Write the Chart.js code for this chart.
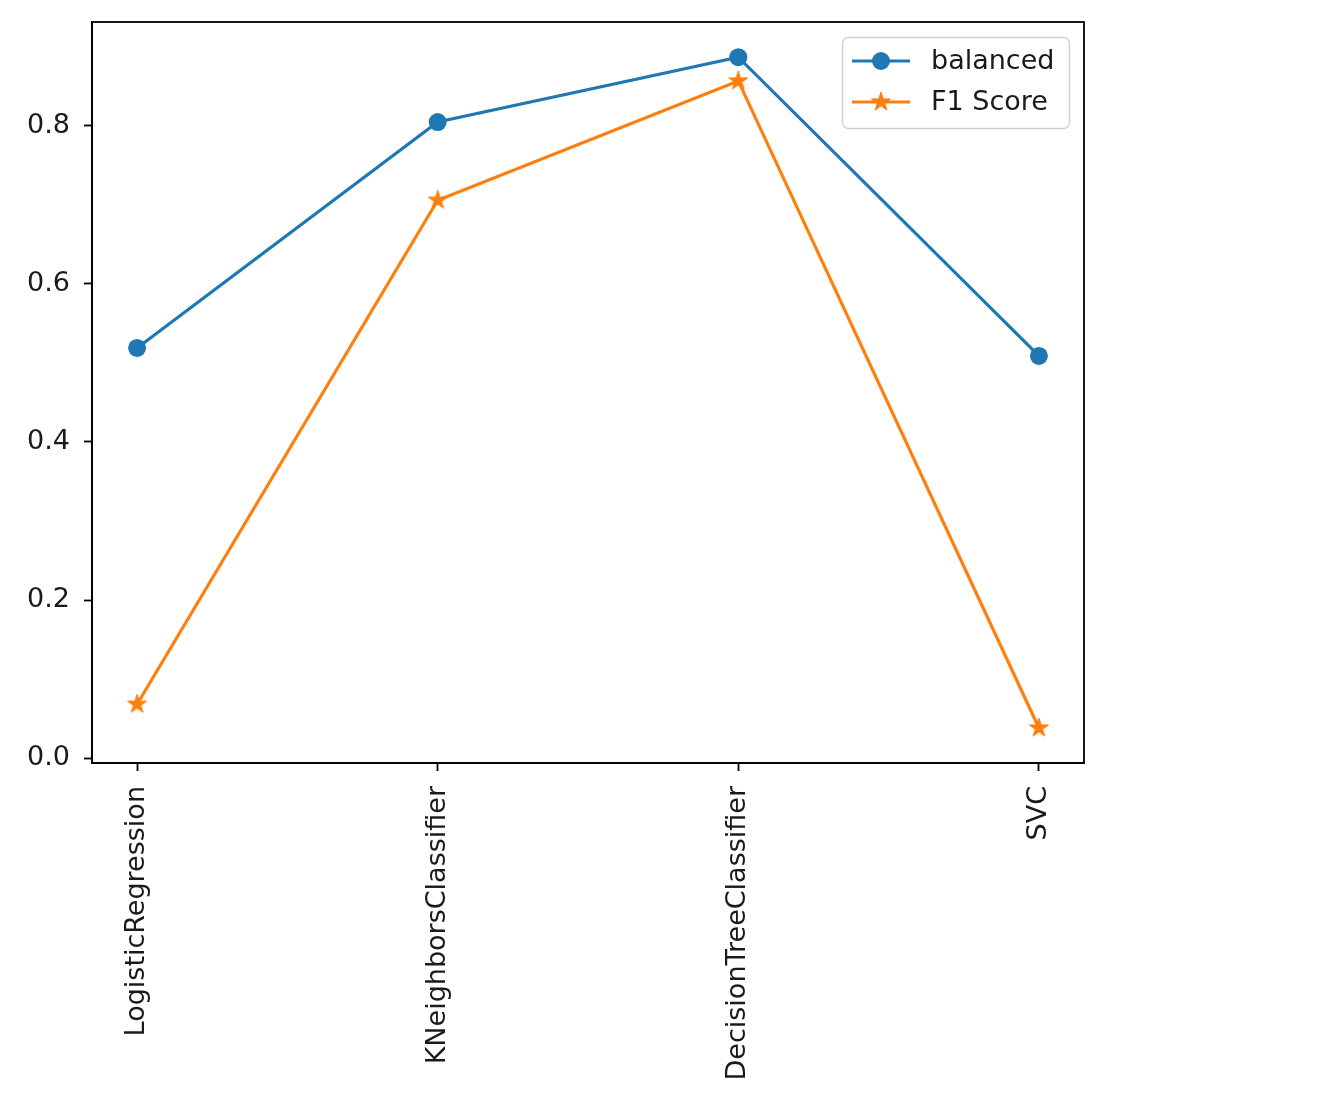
<!DOCTYPE html>
<html>
<head>
<meta charset="utf-8">
<title>Model scores</title>
<script src="https://cdn.jsdelivr.net/npm/chart.js@4/dist/chart.umd.min.js"></script>
<style>
  html, body { margin: 0; padding: 0; background: #fff; }
  #wrap { width: 1332px; height: 1116px; }
</style>
</head>
<body>
<div id="wrap"><canvas id="chart" width="1332" height="1116"></canvas></div>
<script>
// data
const categories = ['LogisticRegression', 'KNeighborsClassifier', 'DecisionTreeClassifier', 'SVC'];
const balanced = [0.519, 0.805, 0.887, 0.509];
const f1Score = [0.068, 0.706, 0.857, 0.038];
const yTicks = [0.0, 0.2, 0.4, 0.6, 0.8];

const BLUE = '#1f77b4';
const ORANGE = '#ff7f0e';
const FONT = { family: '"DejaVu Sans", sans-serif', size: 27 };

// filled 5-point star like matplotlib's '*' marker
function makeStar(color, outer) {
    const size = Math.ceil(outer * 2 + 4);
    const c = document.createElement('canvas');
    c.width = size; c.height = size;
    const g = c.getContext('2d');
    const inner = outer * 0.382;
    g.beginPath();
    for (let i = 0; i < 10; i++) {
        const r = i % 2 === 0 ? outer : inner;
        const a = -Math.PI / 2 + i * Math.PI / 5;
        const px = size / 2 + r * Math.cos(a);
        const py = size / 2 + r * Math.sin(a);
        if (i === 0) g.moveTo(px, py); else g.lineTo(px, py);
    }
    g.closePath();
    g.fillStyle = color;
    g.fill();
    g.lineWidth = 1;
    g.strokeStyle = color;
    g.stroke();
    return c;
}
const starImg = makeStar(ORANGE, 10);

function toPoints(arr) {
    return arr.map((v, i) => ({ x: i, y: v }));
}

// spines drawn over the lines
const framePlugin = {
    id: 'frame',
    afterDatasetsDraw(chart) {
        const a = chart.chartArea;
        const ctx = chart.ctx;
        ctx.save();
        ctx.strokeStyle = '#000';
        ctx.lineWidth = 1.8;
        ctx.strokeRect(a.left, a.top, a.right - a.left, a.bottom - a.top);
        ctx.restore();
    }
};

// matplotlib style legend: line with marker in the middle
const legendPlugin = {
    id: 'mplLegend',
    afterDraw(chart) {
        const ctx = chart.ctx;
        ctx.save();
        ctx.beginPath();
        ctx.roundRect(842.5, 37.5, 227, 91, 6);
        ctx.fillStyle = 'rgba(255,255,255,0.8)';
        ctx.fill();
        ctx.strokeStyle = '#d0d0d0';
        ctx.lineWidth = 1.5;
        ctx.stroke();

        const rows = [
            { label: 'balanced', color: BLUE, y: 61, marker: 'circle' },
            { label: 'F1 Score', color: ORANGE, y: 102, marker: 'star' }
        ];
        rows.forEach(r => {
            ctx.beginPath();
            ctx.moveTo(852, r.y);
            ctx.lineTo(910, r.y);
            ctx.strokeStyle = r.color;
            ctx.lineWidth = 3;
            ctx.stroke();
            if (r.marker === 'circle') {
                ctx.beginPath();
                ctx.arc(881, r.y, 9, 0, Math.PI * 2);
                ctx.fillStyle = r.color;
                ctx.fill();
            } else {
                ctx.drawImage(starImg, 881 - starImg.width / 2, r.y - starImg.height / 2);
            }
            ctx.fillStyle = '#1a1a1a';
            ctx.font = FONT.size + 'px ' + FONT.family;
            ctx.textBaseline = 'middle';
            ctx.textAlign = 'left';
            ctx.fillText(r.label, 931, r.y + 1);
        });
        ctx.restore();
    }
};

const chart = new Chart(document.getElementById('chart'), {
    type: 'line',
    data: {
        datasets: [
            {
                label: 'balanced',
                data: toPoints(balanced),
                borderColor: BLUE,
                backgroundColor: BLUE,
                borderWidth: 3.2,
                pointStyle: 'circle',
                pointRadius: 9,
                pointBorderWidth: 0,
                pointHoverRadius: 9,
                tension: 0,
                clip: false
            },
            {
                label: 'F1 Score',
                data: toPoints(f1Score),
                borderColor: ORANGE,
                backgroundColor: ORANGE,
                borderWidth: 3.2,
                pointStyle: starImg,
                pointRadius: 10,
                tension: 0,
                clip: false
            }
        ]
    },
    options: {
        responsive: false,
        devicePixelRatio: 1,
        animation: false,
        layout: { padding: { left: 0, top: 22, right: 248, bottom: 0 } },
        plugins: {
            legend: { display: false },
            tooltip: { enabled: false }
        },
        scales: {
            x: {
                type: 'linear',
                min: -0.15,
                max: 3.15,
                afterBuildTicks(scale) {
                    scale.ticks = categories.map((c, i) => ({ value: i }));
                },
                afterFit(scale) {
                    scale.height = 1116 - 763;
                    scale.paddingLeft = 0;
                    scale.paddingRight = 0;
                },
                grid: {
                    drawOnChartArea: false,
                    drawTicks: true,
                    tickLength: 8,
                    tickWidth: 1.8,
                    tickColor: '#000'
                },
                border: { display: true, color: '#000', width: 1.8 },
                ticks: {
                    autoSkip: false,
                    minRotation: 90,
                    maxRotation: 90,
                    padding: 15,
                    color: '#1a1a1a',
                    font: FONT,
                    callback: v => categories[v]
                }
            },
            y: {
                type: 'linear',
                min: -0.0063,
                max: 0.9316,
                afterBuildTicks(scale) {
                    scale.ticks = yTicks.map(v => ({ value: v }));
                },
                afterFit(scale) {
                    scale.width = 92;
                    scale.paddingTop = 0;
                    scale.paddingBottom = 0;
                },
                grid: {
                    drawOnChartArea: false,
                    drawTicks: true,
                    tickLength: 8,
                    tickWidth: 1.8,
                    tickColor: '#000'
                },
                border: { display: true, color: '#000', width: 1.8 },
                ticks: {
                    padding: 14,
                    color: '#1a1a1a',
                    font: FONT,
                    callback: v => v.toFixed(1)
                }
            }
        }
    },
    plugins: [framePlugin, legendPlugin]
});
</script>
</body>
</html>
